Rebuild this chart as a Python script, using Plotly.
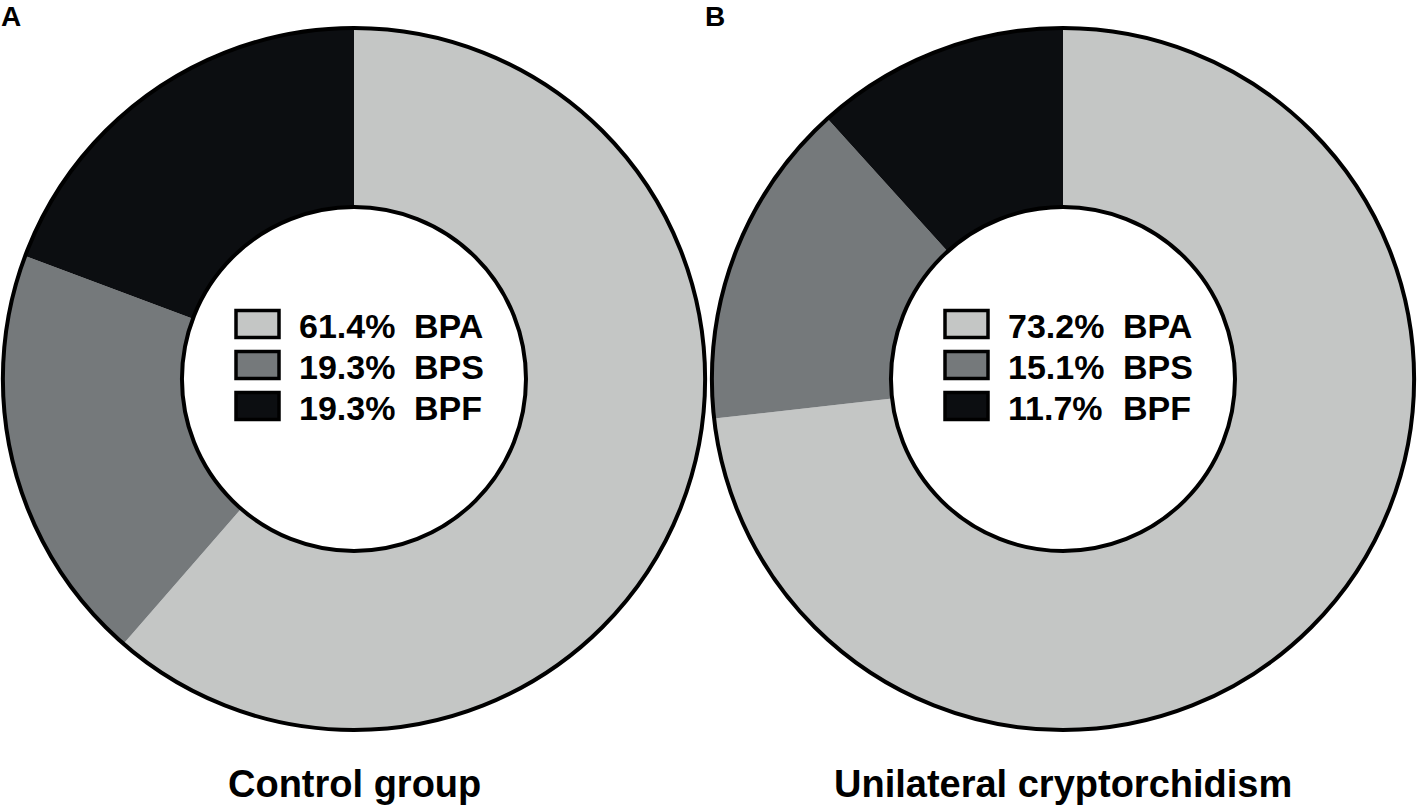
import plotly.graph_objects as go

compounds = ["BPA", "BPS", "BPF"]
control_pct = [61.4, 19.3, 19.3]
crypto_pct = [73.2, 15.1, 11.7]
group_names = ["Control group", "Unilateral cryptorchidism"]
panel_letters = ["A", "B"]
slice_colors = ["#c4c6c5", "#75797b", "#0c0e11"]

W, H = 1418, 810
FONT = "Liberation Sans, Arial, sans-serif"


def px(x):
    return x / W


def py(y):
    return 1 - y / H


# donut centres and radius in pixels
centres = [(354, 379), (1063, 379)]
R = 351
HOLE = 0.49

fig = go.Figure()

for (cx, cy), vals in zip(centres, [control_pct, crypto_pct]):
    dom = dict(x=[px(cx - R), px(cx + R)], y=[py(cy + R), py(cy - R)])
    fig.add_trace(go.Pie(
        labels=compounds, values=vals, sort=False, direction='clockwise',
        rotation=0, hole=HOLE, domain=dom, textinfo='none',
        marker=dict(colors=slice_colors, line=dict(width=0)),
        showlegend=False, hovertemplate='%{label}: %{value}%<extra></extra>'))
    # outline ring (outer + inner circle, no radial edges)
    fig.add_trace(go.Pie(
        labels=['ring'], values=[1], hole=HOLE, domain=dom, textinfo='none',
        marker=dict(colors=['rgba(0,0,0,0)'], line=dict(color='black', width=4)),
        showlegend=False, hoverinfo='skip'))

shapes = []
annotations = []
for i, ((cx, cy), vals) in enumerate(zip(centres, [control_pct, crypto_pct])):
    x0 = cx - 118
    for j, (name, v) in enumerate(zip(compounds, vals)):
        yc = 324 + j * 41
        shapes.append(dict(
            type='rect', xref='paper', yref='paper',
            x0=px(x0), x1=px(x0 + 43), y0=py(yc + 13.5), y1=py(yc - 13.5),
            fillcolor=slice_colors[j], line=dict(color='black', width=3.5)))
        annotations.append(dict(
            x=px(x0 + 61), y=py(yc + 2), xref='paper', yref='paper',
            text=f"<b>{v:.1f}%</b>", showarrow=False, xanchor='left', yanchor='middle',
            font=dict(family=FONT, size=34, color='black')))
        annotations.append(dict(
            x=px(x0 + 176), y=py(yc + 2), xref='paper', yref='paper',
            text=f"<b>{name}</b>", showarrow=False, xanchor='left', yanchor='middle',
            font=dict(family=FONT, size=34, color='black')))
    annotations.append(dict(
        x=px(cx), y=py(784), xref='paper', yref='paper',
        text=f"<b>{group_names[i]}</b>", showarrow=False, xanchor='center', yanchor='middle',
        font=dict(family=FONT, size=38, color='black')))

for letter, lx in zip(panel_letters, [0, 704]):
    annotations.append(dict(x=px(lx), y=1, xref='paper', yref='paper',
                            text=f"<b>{letter}</b>", showarrow=False,
                            xanchor='left', yanchor='top', borderpad=0,
                            font=dict(family=FONT, size=28, color='black')))

fig.update_layout(
    width=W, height=H, margin=dict(l=0, r=0, t=0, b=0),
    paper_bgcolor='white', plot_bgcolor='white',
    shapes=shapes, annotations=annotations, showlegend=False)

fig.write_html("out.html", config={'displayModeBar': False},
               post_script="document.body.style.margin='0';document.body.style.overflow='hidden';")
